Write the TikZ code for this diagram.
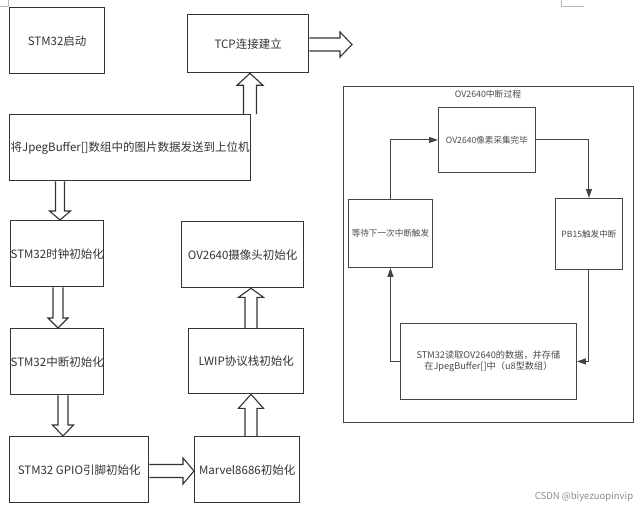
\documentclass[tikz,border=0pt]{standalone}
\usepackage{fontspec}
\setmainfont{Noto Sans CJK SC}
\usetikzlibrary{calc,arrows.meta,backgrounds}
\definecolor{ln}{HTML}{333333}
\definecolor{ln2}{HTML}{444444}
\definecolor{txt}{HTML}{333333}
\definecolor{txt2}{HTML}{4A4A4A}
\definecolor{cornergray}{HTML}{BBBBBB}
\tikzset{
  lbox/.style={draw=ln, line width=1.3pt, rectangle, anchor=north west, inner sep=0pt,
    text=txt, font=\fontsize{11.5}{13}\selectfont, align=center},
  rbox/.style={draw=ln2, line width=0.9pt, rectangle, anchor=north west, inner sep=0pt,
    text=txt2, font=\fontsize{8.6}{11}\selectfont, align=center},
  hollow/.style={draw=ln, line width=1.1pt, fill=white, line join=miter},
  flow/.style={draw=ln2, line width=1pt, -{Triangle[length=9pt,width=6pt]}},
  cornermark/.style={draw=cornergray, line width=0.8pt},
}
\newcommand\vblock[6]{\draw[hollow] let \p1=(#1),\p2=(#2),\n1={sign(\y2-\y1)} in
  ({#3pt-#4pt},\y1) -- ({#3pt-#4pt},{\y2-(\n1)*#6pt}) -- ({#3pt-#5pt},{\y2-(\n1)*#6pt})
  -- ({#3pt},\y2) -- ({#3pt+#5pt},{\y2-(\n1)*#6pt}) -- ({#3pt+#4pt},{\y2-(\n1)*#6pt})
  -- ({#3pt+#4pt},\y1);}
\newcommand\hblock[6]{\draw[hollow] let \p1=(#1),\p2=(#2),\n1={sign(\x2-\x1)} in
  (\x1,{-#3pt+#4pt}) -- ({\x2-(\n1)*#6pt},{-#3pt+#4pt}) -- ({\x2-(\n1)*#6pt},{-#3pt+#5pt})
  -- (\x2,{-#3pt}) -- ({\x2-(\n1)*#6pt},{-#3pt-#5pt}) -- ({\x2-(\n1)*#6pt},{-#3pt-#4pt})
  -- (\x1,{-#3pt-#4pt});}
\begin{document}
\begin{tikzpicture}[x=1pt,y=-1pt]
\useasboundingbox (0,0) rectangle (644,508);
% page corner marks
\draw[cornermark] (0,6) -- (8,6) -- (8,0);
\draw[cornermark] (561,0) -- (561,6) -- (584,6);

% left flow
\node[lbox, minimum width=95pt, minimum height=66pt] (start) at (9,7) {STM32启动};
\node[lbox, minimum width=121pt, minimum height=58pt] (tcp) at (187,14) {TCP连接建立};
\node[lbox, minimum width=241pt, minimum height=66pt] (send) at (9,114) {将JpegBuffer[]数组中的图片数据发送到上位机};
\node[lbox, minimum width=93pt, minimum height=66pt] (clk) at (10,220) {STM32时钟初始化};
\node[lbox, minimum width=93pt, minimum height=66pt] (irq) at (10,328) {STM32中断初始化};
\node[lbox, minimum width=139pt, minimum height=66pt] (gpio) at (9,436) {STM32 GPIO引脚初始化};
\node[lbox, minimum width=105pt, minimum height=66pt] (marvel) at (194,436) {Marvel8686初始化};
\node[lbox, minimum width=115pt, minimum height=65pt] (lwip) at (188,328) {LWIP协议栈初始化};
\node[lbox, minimum width=122pt, minimum height=66pt] (ov) at (181,221) {OV2640摄像头初始化};
\coordinate (tcpout) at (352,44.5);

\begin{pgfonlayer}{background}
\vblock{send.south}{clk.north}{60}{4.5}{10.5}{9}
\vblock{clk.south}{irq.north}{58}{5}{10}{10}
\vblock{irq.south}{gpio.north}{63}{5}{10.5}{11}
\hblock{gpio.east}{marvel.west}{471}{6.5}{13}{11}
\vblock{marvel.north}{lwip.south}{251}{6}{12.5}{14}
\vblock{lwip.north}{ov.south}{251}{6}{12.5}{9}
\vblock{send.north}{tcp.south}{250}{6.5}{13}{12}
\hblock{tcp.east}{tcpout}{44.5}{6.5}{12.5}{12}
\end{pgfonlayer}

% right panel
\node[rbox, minimum width=290pt, minimum height=336pt] (frame) at (343,86) {};
\node[text=txt2, font=\fontsize{8.8}{11}\selectfont] (title) at (488,94) {OV2640中断过程};
\node[rbox, minimum width=97pt, minimum height=65pt] (ovpix) at (438,107) {OV2640像素采集完毕};
\node[rbox, minimum width=67pt, minimum height=71pt] (pb15) at (555,198) {PB15触发中断};
\node[rbox, minimum width=84pt, minimum height=68pt] (wait) at (348,199) {等待下一次中断触发};
\node[rbox, minimum width=176pt, minimum height=76pt, font=\fontsize{9.2}{11.5}\selectfont] (read) at (400,323) {STM32读取OV2640的数据，并存储\\在JpegBuffer[]中（u8型数组）};

\draw[flow] (ovpix.east) -| (pb15.north);
\draw[flow] (pb15.south) |- (read.east);
\draw[flow] (read.west) -| (wait.south);
\draw[flow] (wait.north) |- (ovpix.west);

\node[text=black!45, font=\fontsize{9.5}{11}\selectfont] (wm) at (584,497) {CSDN @biyezuopinvip};
\end{tikzpicture}
\end{document}
